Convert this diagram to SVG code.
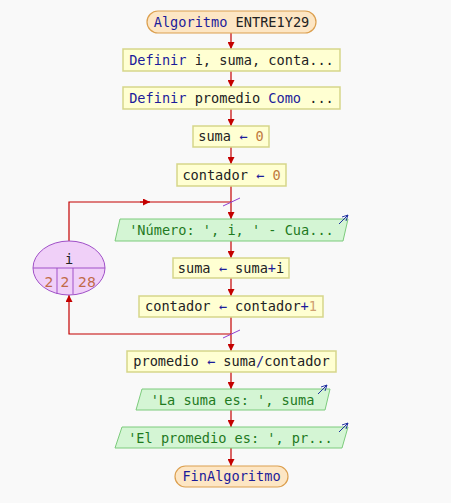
<svg xmlns="http://www.w3.org/2000/svg" width="451" height="503" viewBox="0 0 451 503">
<defs>
<style>
.t{font-family:"DejaVu Sans Mono","Liberation Mono",monospace;font-size:13.6px;text-anchor:middle;fill:#222}
.kw{fill:#1c1c9a}
.num{fill:#c07a40}
.str{fill:#1f7a1f}
.op{fill:#1c1c9a}
.term{fill:#fde6c4;stroke:#dca050;stroke-width:1.2}
.proc{fill:#ffffd2;stroke:#d6d68a;stroke-width:1.5}
.io{fill:#d4f5d4;stroke:#7ccb7c;stroke-width:1}
.c{fill:none;stroke:#c40000;stroke-width:1.2}
.io-arr{fill:none;stroke:#2030a0;stroke-width:1}
.sl{stroke:#9040d0;stroke-width:1}
</style>
<marker id="ah" viewBox="0 0 10 10" refX="10" refY="5" markerWidth="7" markerHeight="7" markerUnits="userSpaceOnUse" orient="auto">
<path d="M0,0 L10,5 L0,10 z" fill="#c40000"/>
</marker>
<marker id="bh" viewBox="0 0 10 10" refX="10" refY="5" markerWidth="6" markerHeight="6" markerUnits="userSpaceOnUse" orient="auto">
<path d="M0,0 L10,5 L0,10" fill="none" stroke="#2030a0" stroke-width="1.5"/>
</marker>
</defs>
<rect width="451" height="503" fill="#f9f9f9"/>
<g id="connectors">
<line class="c" x1="231" y1="33" x2="231" y2="49" marker-end="url(#ah)"/>
<line class="c" x1="231" y1="71" x2="231" y2="87" marker-end="url(#ah)"/>
<line class="c" x1="231" y1="109" x2="231" y2="126" marker-end="url(#ah)"/>
<line class="c" x1="231" y1="147" x2="231" y2="164" marker-end="url(#ah)"/>
<line class="c" x1="231" y1="186" x2="231" y2="219" marker-end="url(#ah)"/>
<line class="c" x1="231" y1="241" x2="231" y2="258" marker-end="url(#ah)"/>
<line class="c" x1="231" y1="278" x2="231" y2="296" marker-end="url(#ah)"/>
<line class="c" x1="231" y1="317" x2="231" y2="351" marker-end="url(#ah)"/>
<line class="c" x1="231" y1="372" x2="231" y2="389" marker-end="url(#ah)"/>
<line class="c" x1="231" y1="410" x2="231" y2="427" marker-end="url(#ah)"/>
<line class="c" x1="231" y1="448" x2="231" y2="466" marker-end="url(#ah)"/>
<polyline class="c" points="69,241 69,202 231,202"/>
<line class="c" x1="140" y1="202" x2="150" y2="202" marker-end="url(#ah)"/>
<polyline class="c" points="231,334 69,334 69,295" marker-end="url(#ah)"/>
<line class="sl" x1="223" y1="206" x2="240" y2="198"/>
<line class="sl" x1="223" y1="338" x2="240" y2="330"/>
</g>
<g id="start">
<rect class="term" x="147" y="11" width="169" height="22" rx="11"/>
<text class="t" x="231.5" y="26.5"><tspan class="kw">Algoritmo</tspan> ENTRE1Y29</text>
</g>
<g id="def1">
<rect class="proc" x="123" y="49" width="217" height="22"/>
<text class="t" x="231.5" y="64.5"><tspan class="kw">Definir</tspan> i, suma, conta...</text>
</g>
<g id="def2">
<rect class="proc" x="123" y="87" width="217" height="22"/>
<text class="t" x="231.5" y="102.5"><tspan class="kw">Definir</tspan> promedio <tspan class="kw">Como</tspan> ...</text>
</g>
<g id="suma0">
<rect class="proc" x="193" y="126" width="76" height="21"/>
<text class="t" x="231" y="141"><tspan>suma </tspan><tspan class="op">←</tspan> <tspan class="num">0</tspan></text>
</g>
<g id="cont0">
<rect class="proc" x="177" y="164" width="109" height="22"/>
<text class="t" x="231.5" y="179.5">contador <tspan class="op">←</tspan> <tspan class="num">0</tspan></text>
</g>
<g id="loop">
<ellipse cx="69" cy="268" rx="36" ry="27" fill="#f0d0f8" stroke="#a050c8" stroke-width="1"/>
<line x1="33" y1="268" x2="105" y2="268" stroke="#a050c8" stroke-width="1"/>
<line x1="57" y1="268" x2="57" y2="294" stroke="#a050c8" stroke-width="1"/>
<line x1="73" y1="268" x2="73" y2="294" stroke="#a050c8" stroke-width="1"/>
<text x="69" y="264" style="font-family:'DejaVu Sans Mono',monospace;font-size:13.6px;text-anchor:middle;fill:#222">i</text>
<text x="49" y="287" style="font-family:'DejaVu Sans',sans-serif;font-size:14px;text-anchor:middle;fill:#c06a48">2</text>
<text x="65" y="287" style="font-family:'DejaVu Sans',sans-serif;font-size:14px;text-anchor:middle;fill:#c06a48">2</text>
<text x="87" y="287" style="font-family:'DejaVu Sans',sans-serif;font-size:14px;text-anchor:middle;fill:#c06a48">28</text>
</g>
<g id="read1">
<polygon class="io" points="120,219 348,219 343,241 115,241"/>
<line class="io-arr" x1="339" y1="224" x2="348" y2="215" marker-end="url(#bh)"/>
<text class="t str" x="231.5" y="235">'Número: ', i, ' - Cua...</text>
</g>
<g id="sumai">
<rect class="proc" x="173" y="258" width="116" height="20"/>
<text class="t" x="231" y="273">suma <tspan class="op">←</tspan> suma<tspan class="op">+</tspan>i</text>
</g>
<g id="continc">
<rect class="proc" x="139" y="296" width="184" height="21"/>
<text class="t" x="231" y="311">contador <tspan class="op">←</tspan> contador<tspan class="op">+</tspan><tspan fill="#d0a070">1</tspan></text>
</g>
<g id="prom">
<rect class="proc" x="127" y="351" width="209" height="21"/>
<text class="t" x="231.5" y="366">promedio <tspan class="op">←</tspan> suma<tspan class="op">/</tspan>contador</text>
</g>
<g id="out1">
<polygon class="io" points="142,389 330,389 325,410 136,410"/>
<line class="io-arr" x1="318" y1="394" x2="327" y2="385" marker-end="url(#bh)"/>
<text class="t str" x="232.5" y="404.5">'La suma es: ', suma</text>
</g>
<g id="out2">
<polygon class="io" points="122,427 348,427 342,448 115,448"/>
<line class="io-arr" x1="339" y1="432" x2="348" y2="423" marker-end="url(#bh)"/>
<text class="t str" x="230.5" y="442.5">'El promedio es: ', pr...</text>
</g>
<g id="end">
<rect class="term" x="175" y="466" width="113" height="21" rx="10.5"/>
<text class="t kw" x="231.5" y="481">FinAlgoritmo</text>
</g>
</svg>
